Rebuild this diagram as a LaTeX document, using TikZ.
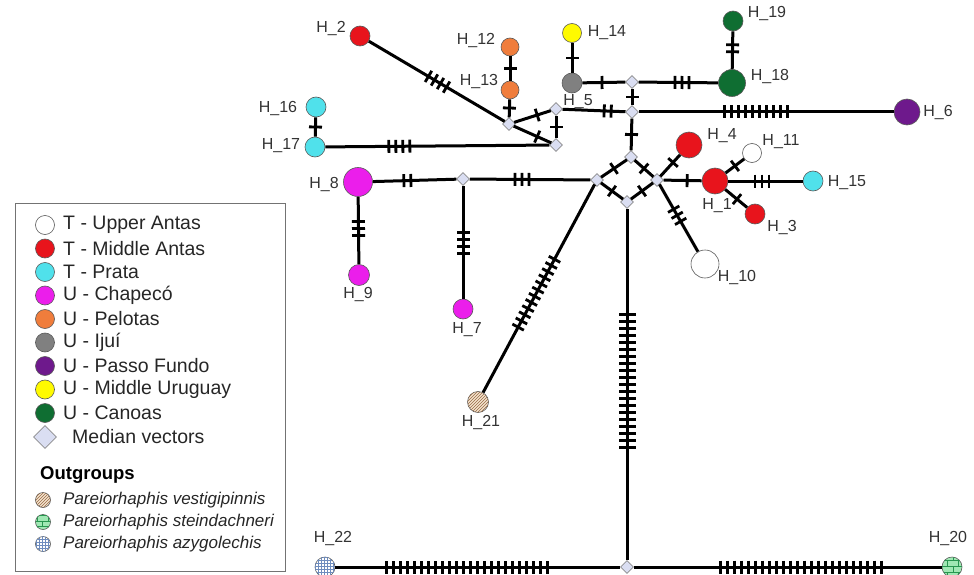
\documentclass[tikz,border=0pt]{standalone}
\usepackage{fontspec}
\setmainfont{Liberation Sans}
\usetikzlibrary{calc,patterns,shapes.geometric}

\definecolor{tRed}{RGB}{232,20,28}
\definecolor{tCyan}{RGB}{80,225,235}
\definecolor{uMag}{RGB}{235,30,235}
\definecolor{uOrange}{RGB}{240,125,60}
\definecolor{uGray}{RGB}{128,128,128}
\definecolor{uPurple}{RGB}{110,25,140}
\definecolor{uYellow}{RGB}{255,250,0}
\definecolor{uGreen}{RGB}{15,110,50}
\definecolor{medfill}{RGB}{218,222,242}
\definecolor{stripeBg}{RGB}{245,228,205}
\definecolor{stripeFg}{RGB}{150,105,70}
\definecolor{brickBg}{RGB}{160,232,180}
\definecolor{brickFg}{RGB}{40,150,80}
\definecolor{gridFg}{RGB}{110,140,190}

\tikzset{
  edge/.style={line width=3pt},
  tick/.style={line width=2.8pt},
  hap/.style={circle, draw=black!65, line width=0.6pt, inner sep=0pt, minimum size=#1},
  hap/.default=20pt,
  med/.style={diamond, draw=black!45, fill=medfill, line width=0.6pt, inner sep=0pt, minimum size=13pt},
  lab/.style={font=\fontsize{16}{18}\selectfont, text=black!80, inner sep=0pt},
  legtext/.style={font=\fontsize{19.5}{21}\selectfont, text=black!85, anchor=west, inner sep=0pt},
  outtext/.style={font=\fontsize{17}{19}\selectfont\itshape, text=black!85, anchor=west, inner sep=0pt},
}

% edge with mutation ticks: nodes, number of ticks, centre of ticks
\newcommand\tkhalf{6.5pt}
\newcommand\muts[4]{%
  \draw[edge] (#1) -- (#2);
  \coordinate (tc) at ($(#1)!#4!(#2)$);
  \foreach \k in {1,...,#3}{
    \pgfmathsetlengthmacro\tkoff{(\k-(#3+1)/2)*7pt}
    \coordinate (tp) at ($(tc)!\tkoff!(#2)$);
    \draw[tick] ($(tp)!\tkhalf!90:(#2)$) -- ($(tp)!\tkhalf!-90:(#2)$);
  }}

\begin{document}
\begin{tikzpicture}[x=1pt, y=-1pt]
\useasboundingbox (0,0) rectangle (974,575);

% median vectors
\node[med] (m13)  at (509,124) {};
\node[med] (mtr)  at (556,109) {};
\node[med] (mbr)  at (556,145) {};
\node[med] (m5r)  at (632,82)  {};
\node[med] (mjn)  at (632,112) {};
\node[med] (dtop) at (631,157) {};
\node[med] (dlft) at (597,180) {};
\node[med] (drgt) at (657,180) {};
\node[med] (dbot) at (627,202) {};
\node[med] (m8r)  at (463,179) {};
\node[med] (mbas) at (627,567) {};

% haplotypes
\node[hap=20pt, fill=tRed]    (h2)  at (360,36)  {};
\node[hap=18pt, fill=uOrange] (h12) at (510,47)  {};
\node[hap=18pt, fill=uOrange] (h13) at (510,90)  {};
\node[hap=19pt, fill=uYellow] (h14) at (572,33)  {};
\node[hap=20pt, fill=uGray]   (h5)  at (572,83)  {};
\node[hap=27pt, fill=uGreen]  (h18) at (732,83)  {};
\node[hap=20pt, fill=uGreen]  (h19) at (733,21)  {};
\node[hap=26pt, fill=uPurple] (h6)  at (907,112) {};
\node[hap=20pt, fill=tCyan]   (h16) at (316,107) {};
\node[hap=20pt, fill=tCyan]   (h17) at (315,147) {};
\node[hap=26pt, fill=tRed]    (h4)  at (689,145) {};
\node[hap=19pt, fill=white]   (h11) at (752,153) {};
\node[hap=26pt, fill=tRed]    (h1)  at (715,181) {};
\node[hap=20pt, fill=tRed]    (h3)  at (755,214) {};
\node[hap=20pt, fill=tCyan]   (h15) at (813,181) {};
\node[hap=28pt, fill=white]   (h10) at (705,264) {};
\node[hap=29pt, fill=uMag]    (h8)  at (358,182) {};
\node[hap=21pt, fill=uMag]    (h9)  at (359,275) {};
\node[hap=20pt, fill=uMag]    (h7)  at (463,309) {};
\node[hap=21pt, fill=stripeBg, postaction={pattern=north east lines, pattern color=stripeFg}] (h21) at (478,402) {};
\node[hap=20pt, fill=white, postaction={pattern=grid, pattern color=gridFg}] (h22) at (325,567) {};
\node[hap=20pt, fill=brickBg, postaction={pattern=bricks, pattern color=brickFg}] (h20) at (952,567) {};

% connectors
\muts{h2}{m13}{4}{.52}
\muts{h12}{h13}{1}{.5}
\muts{h13}{m13}{1}{.53}
\muts{m13}{mtr}{1}{.6}
\muts{m13}{mbr}{1}{.6}
\muts{mtr}{mbr}{1}{.5}
\muts{h16}{h17}{1}{.5}
\muts{h17}{mbr}{4}{.35}
\muts{mtr}{mjn}{2}{.68}
\muts{h14}{h5}{1}{.5}
\muts{h5}{m5r}{1}{.5}
\muts{m5r}{h18}{3}{.5}
\muts{h19}{h18}{2}{.44}
\muts{m5r}{mjn}{1}{.5}
\muts{mjn}{h6}{10}{.45}
\muts{mjn}{dtop}{1}{.5}
\muts{dtop}{dlft}{1}{.5}
\muts{dtop}{drgt}{1}{.5}
\muts{dlft}{dbot}{1}{.5}
\muts{drgt}{dbot}{1}{.5}
\muts{drgt}{h4}{1}{.5}
\muts{drgt}{h1}{1}{.52}
\muts{drgt}{h10}{3}{.42}
\muts{h1}{h11}{1}{.54}
\muts{h1}{h3}{1}{.55}
\muts{h1}{h15}{3}{.48}
\muts{h8}{m8r}{2}{.47}
\muts{m8r}{dlft}{3}{.44}
\muts{h8}{h9}{3}{.5}
\muts{m8r}{h7}{4}{.49}
\muts{dlft}{h21}{12}{.51}
{\renewcommand\tkhalf{8.5pt}
\muts{dbot}{mbas}{20}{.49}}
\muts{mbas}{h22}{24}{.53}
\muts{mbas}{h20}{24}{.535}

% haplotype labels
\node[lab] (l2)  at (331,29)  {H\_2};
\node[lab] (l12) at (476,41)  {H\_12};
\node[lab] (l13) at (479,82)  {H\_13};
\node[lab] (l14) at (607,33)  {H\_14};
\node[lab] (l5)  at (578,102) {H\_5};
\node[lab] (l19) at (767,14)  {H\_19};
\node[lab] (l18) at (770,77)  {H\_18};
\node[lab] (l6)  at (938,113) {H\_6};
\node[lab] (l16) at (278,109) {H\_16};
\node[lab] (l17) at (281,146) {H\_17};
\node[lab] (l4)  at (722,136) {H\_4};
\node[lab] (l11) at (781,142) {H\_11};
\node[lab] (l15) at (847,183) {H\_15};
\node[lab] (l1)  at (717,206) {H\_1};
\node[lab] (l3)  at (782,228) {H\_3};
\node[lab] (l10) at (737,278) {H\_10};
\node[lab] (l8)  at (324,185) {H\_8};
\node[lab] (l9)  at (358,295) {H\_9};
\node[lab] (l7)  at (467,330) {H\_7};
\node[lab] (l21) at (481,423) {H\_21};
\node[lab] (l22) at (333,538) {H\_22};
\node[lab] (l20) at (948,538) {H\_20};

% legend
\draw[black!55, line width=0.8pt] (15,203) rectangle (285,571);
\foreach \c/\t [count=\i] in {white/T - Upper Antas, tRed/T - Middle Antas, tCyan/T - Prata,
    uMag/U - Chapecó, uOrange/U - Pelotas, uGray/U - Ijuí, uPurple/U - Passo Fundo,
    uYellow/U - Middle Uruguay, uGreen/U - Canoas}{
  \node[hap=19pt, fill=\c] (leg\i) at (45,{225+(\i-1)*23.5}) {};
  \node[legtext] (legt\i) at (63,{225+(\i-1)*23.5}) {\t};
}
\node[med, minimum size=23pt] (legm) at (45,437) {};
\node[legtext] (legmt) at (72,437) {Median vectors};
\node[legtext, font=\fontsize{18.5}{20}\selectfont\bfseries, text=black] (legout) at (40,475) {Outgroups};
\node[hap=15pt, fill=stripeBg, postaction={pattern=north east lines, pattern color=stripeFg}] (lego1) at (43,500) {};
\node[outtext] (lego1t) at (63,500) {Pareiorhaphis vestigipinnis};
\node[hap=15pt, fill=brickBg, postaction={pattern=bricks, pattern color=brickFg}] (lego2) at (43,522) {};
\node[outtext] (lego2t) at (63,522) {Pareiorhaphis steindachneri};
\node[hap=15pt, fill=white, postaction={pattern=grid, pattern color=gridFg}] (lego3) at (43,544) {};
\node[outtext] (lego3t) at (63,544) {Pareiorhaphis azygolechis};
\end{tikzpicture}
\end{document}
